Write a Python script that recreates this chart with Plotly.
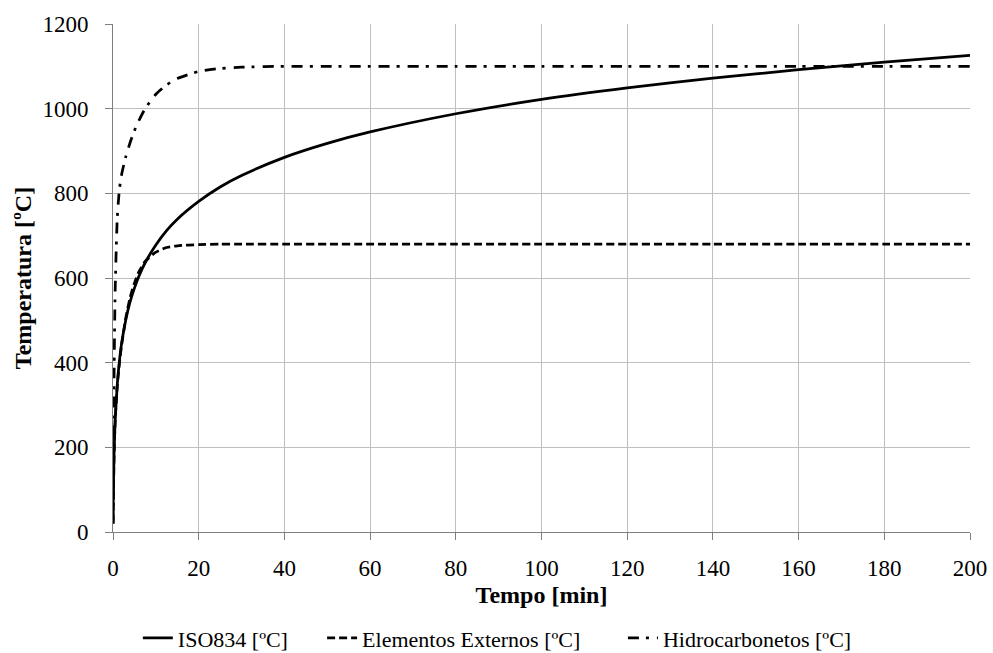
import plotly.graph_objects as go

tempo = [0, 0.1, 0.25, 0.5, 1, 1.5, 2, 3, 4, 5, 6, 7.5, 10, 12.5, 15, 20, 25, 30, 40, 50, 60, 80, 100, 120, 140, 160, 180, 200]
iso834 = [20, 108, 185, 261, 349, 404, 445, 502, 544, 576, 603, 636, 678, 712, 739, 781, 815, 842, 885, 918, 945, 988, 1022, 1049, 1072, 1092, 1110, 1126]
externos = [20, 85, 182, 263, 346, 399, 441, 506, 554, 588, 614, 639, 661, 672, 676, 679, 680, 680, 680, 680, 680, 680, 680, 680, 680, 680, 680, 680]
hidro = [20, 180, 373, 568, 743, 810, 844, 887, 920, 948, 971, 1000, 1034, 1056, 1071, 1088, 1095, 1098, 1100, 1100, 1100, 1100, 1100, 1100, 1100, 1100, 1100, 1100]

names = ["ISO834 [ºC]", "Elementos Externos [ºC]", "Hidrocarbonetos [ºC]"]
dashes = ["solid", "8px,4px", "11px,7px,3px,8px"]
legend_ids = ["legend", "legend2", "legend3"]
legend_x = [0.029, 0.244, 0.595]

fig = go.Figure()
for ys, nm, ds, lg in zip([iso834, externos, hidro], names, dashes, legend_ids):
    fig.add_trace(go.Scatter(x=tempo, y=ys, mode="lines", name=nm, legend=lg,
                             line=dict(color="black", width=2.75, dash=ds, shape="spline", smoothing=0.6)))

font = "Liberation Serif, Times New Roman, serif"
legends = {}
for lg, lx in zip(legend_ids, legend_x):
    legends[lg] = dict(orientation="h", x=lx, xanchor="left", y=-0.209, yanchor="middle",
                       font=dict(size=22, family=font), bgcolor="rgba(0,0,0,0)")

fig.update_layout(
    width=993, height=653,
    margin=dict(l=113, r=23, t=24, b=121, autoexpand=False),
    plot_bgcolor="white", paper_bgcolor="white",
    font=dict(family=font, size=23, color="black"),
    showlegend=True,
    **legends,
)
fig.update_xaxes(range=[0, 200], dtick=20, showgrid=True, gridcolor="#bfbfbf", gridwidth=1,
                 showline=True, linecolor="#7f7f7f", linewidth=1, ticks="outside", ticklen=7,
                 tickcolor="#7f7f7f", zeroline=False, automargin=False, ticklabelstandoff=8,
                 title=dict(text="<b>Tempo [min]</b>", font=dict(size=24, family=font), standoff=6))
fig.update_yaxes(range=[0, 1200], dtick=200, showgrid=True, gridcolor="#bfbfbf", gridwidth=1,
                 showline=True, linecolor="#7f7f7f", linewidth=1, ticks="outside", ticklen=7,
                 tickcolor="#7f7f7f", zeroline=False, automargin=False, ticklabelstandoff=12,
                 title=dict(text="<b>Temperatura [ºC]</b>", font=dict(size=24, family=font), standoff=4))

fig.write_html("out.html", config={"displayModeBar": False},
               post_script="document.body.style.margin='0px';")
